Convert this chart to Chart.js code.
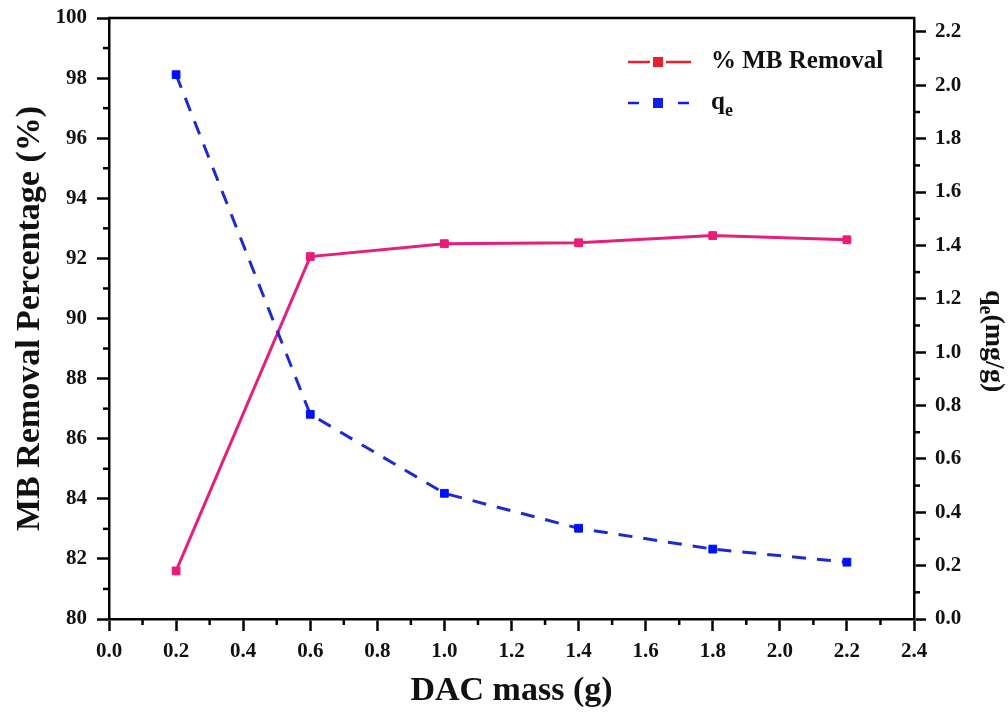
<!DOCTYPE html>
<html>
<head>
<meta charset="utf-8">
<script src="https://cdn.jsdelivr.net/npm/chart.js@4.4.1/dist/chart.umd.min.js"></script>
<style>
  html, body { margin: 0; padding: 0; background: #fff; }
  #wrap { width: 1008px; height: 717px; }
</style>
</head>
<body>
<div id="wrap"><canvas id="chart" width="1008" height="717"></canvas></div>
<script>
// DAC mass (g) on the x axis
const masses = [0.2, 0.6, 1.0, 1.4, 1.8, 2.2];
// % MB removal (left axis)
const removal = [81.6, 92.06, 92.49, 92.52, 92.76, 92.62];
// qe in mg/g (right axis)
const qe = [2.04, 0.767, 0.471, 0.340, 0.262, 0.213];

// tick labels
const xTicks = [0.0, 0.2, 0.4, 0.6, 0.8, 1.0, 1.2, 1.4, 1.6, 1.8, 2.0, 2.2, 2.4];
const yTicks = [80, 82, 84, 86, 88, 90, 92, 94, 96, 98, 100];
const y2Ticks = [0.0, 0.2, 0.4, 0.6, 0.8, 1.0, 1.2, 1.4, 1.6, 1.8, 2.0, 2.2];

const SERIF = "'Liberation Serif', 'Times New Roman', serif";
const PINK = '#e4207c';
const BLUE = '#1c2bd0';

// midpoints between major ticks, used for the small minor ticks
function mids(arr) {
  const out = [];
  for (let i = 0; i < arr.length - 1; i++) out.push((arr[i] + arr[i + 1]) / 2);
  return out;
}

// frame top line, minor ticks, right axis title and legend
const framePlugin = {
  id: 'framePlugin',
  afterDraw(chart) {
    const { ctx, chartArea: a, scales } = chart;
    ctx.save();
    ctx.strokeStyle = '#000';
    ctx.lineWidth = 2.5;
    ctx.beginPath();
    ctx.moveTo(a.left - 1, a.top);
    ctx.lineTo(a.right + 1, a.top);
    ctx.stroke();

    // minor ticks
    mids(xTicks).forEach(v => {
      const px = scales.x.getPixelForValue(v);
      ctx.beginPath(); ctx.moveTo(px, a.bottom); ctx.lineTo(px, a.bottom + 6); ctx.stroke();
    });
    mids(yTicks).forEach(v => {
      const py = scales.y.getPixelForValue(v);
      ctx.beginPath(); ctx.moveTo(a.left, py); ctx.lineTo(a.left - 6, py); ctx.stroke();
    });
    mids(y2Ticks).forEach(v => {
      const py = scales.y2.getPixelForValue(v);
      ctx.beginPath(); ctx.moveTo(a.right, py); ctx.lineTo(a.right + 6, py); ctx.stroke();
    });

    // right axis title: q_e(mg/g), rotated clockwise
    ctx.fillStyle = '#111';
    ctx.translate(a.right + 79, a.top + 272);
    ctx.rotate(Math.PI / 2);
    ctx.textBaseline = 'middle';
    ctx.textAlign = 'left';
    ctx.font = 'bold 28px ' + SERIF;
    ctx.fillText('q', 0, 0);
    let w = ctx.measureText('q').width;
    ctx.font = 'bold 20px ' + SERIF;
    ctx.fillText('e', w, 8);
    w += ctx.measureText('e').width;
    ctx.font = 'bold 28px ' + SERIF;
    ctx.fillText('(mg/g)', w, 0);
    ctx.restore();

    // legend
    ctx.save();
    const lx = a.right - 286;
    const rows = [
      { y: a.top + 44, color: '#e8202e', dash: [], label: '% MB Removal' },
      { y: a.top + 85, color: '#1020e0', dash: [11, 14], label: 'q' }
    ];
    rows.forEach((r, i) => {
      ctx.strokeStyle = r.color;
      ctx.lineWidth = 2.5;
      ctx.setLineDash(r.dash);
      ctx.beginPath(); ctx.moveTo(lx, r.y); ctx.lineTo(lx + 63, r.y); ctx.stroke();
      ctx.setLineDash([]);
      ctx.fillStyle = '#fff';
      ctx.fillRect(lx + 22, r.y - 8, 16, 16);
      ctx.fillStyle = r.color;
      ctx.fillRect(lx + 25, r.y - 5, 10, 10);
      ctx.fillStyle = '#111';
      ctx.textBaseline = 'middle';
      ctx.textAlign = 'left';
      ctx.font = 'bold 25px ' + SERIF;
      ctx.fillText(r.label, lx + 83, r.y);
      if (i === 1) {
        const qw = ctx.measureText('q').width;
        ctx.font = 'bold 18px ' + SERIF;
        ctx.fillText('e', lx + 83 + qw, r.y + 8);
      }
    });
    ctx.restore();
  }
};

const tickFont = { family: SERIF, size: 21, weight: 'bold' };
const axisGrid = { drawOnChartArea: false, tickLength: 12, tickWidth: 2.5, tickColor: '#000' };
const axisBorder = { display: true, color: '#000', width: 2.5 };

// keep the plot frame where the reference has it
function fixVertical(width) {
  return s => { s.width = width; s.paddingTop = 0; s.paddingBottom = 0; };
}

new Chart(document.getElementById('chart').getContext('2d'), {
  type: 'line',
  data: {
    datasets: [
      {
        label: 'q_e',
        data: masses.map((m, i) => ({ x: m, y: qe[i] })),
        yAxisID: 'y2',
        borderColor: BLUE,
        borderWidth: 3,
        borderDash: [14, 11],
        pointStyle: 'rect',
        pointRadius: 5.5,
        pointBackgroundColor: '#0010ff',
        pointBorderColor: '#0010ff',
        pointBorderWidth: 1,
        tension: 0
      },
      {
        label: '% MB Removal',
        data: masses.map((m, i) => ({ x: m, y: removal[i] })),
        yAxisID: 'y',
        borderColor: PINK,
        borderWidth: 3,
        pointStyle: 'rect',
        pointRadius: 5.5,
        pointBackgroundColor: '#ec1a78',
        pointBorderColor: '#ec1a78',
        pointBorderWidth: 1,
        tension: 0
      }
    ]
  },
  options: {
    responsive: false,
    animation: false,
    devicePixelRatio: 1,
    layout: { padding: { top: 18, right: 0, left: 0, bottom: 0 } },
    plugins: { legend: { display: false }, tooltip: { enabled: false } },
    scales: {
      x: {
        type: 'linear',
        min: 0,
        max: 2.4,
        afterBuildTicks: s => { s.ticks = xTicks.map(v => ({ value: v })); },
        afterFit: s => { s.height = 98; },
        ticks: { font: tickFont, color: '#111', padding: 8, maxRotation: 0, callback: v => v.toFixed(1) },
        grid: axisGrid,
        border: axisBorder,
        title: {
          display: true,
          text: 'DAC mass (g)',
          color: '#111',
          font: { family: SERIF, size: 34, weight: 'bold' },
          padding: { top: 0, bottom: 5 }
        }
      },
      y: {
        position: 'left',
        min: 80,
        max: 100,
        afterBuildTicks: s => { s.ticks = yTicks.map(v => ({ value: v })); },
        afterFit: fixVertical(109),
        ticks: { font: tickFont, color: '#111', padding: 10 },
        grid: axisGrid,
        border: axisBorder,
        title: {
          display: true,
          text: 'MB Removal Percentage (%)',
          color: '#111',
          font: { family: SERIF, size: 34, weight: 'bold' },
          padding: { top: 10, bottom: 0 }
        }
      },
      y2: {
        position: 'right',
        min: 0,
        max: 2.2524,
        afterBuildTicks: s => { s.ticks = y2Ticks.map(v => ({ value: v })); },
        afterFit: fixVertical(94),
        ticks: { font: tickFont, color: '#111', padding: 9, callback: v => v.toFixed(1) },
        grid: axisGrid,
        border: axisBorder
      }
    }
  },
  plugins: [framePlugin]
});
</script>
</body>
</html>
